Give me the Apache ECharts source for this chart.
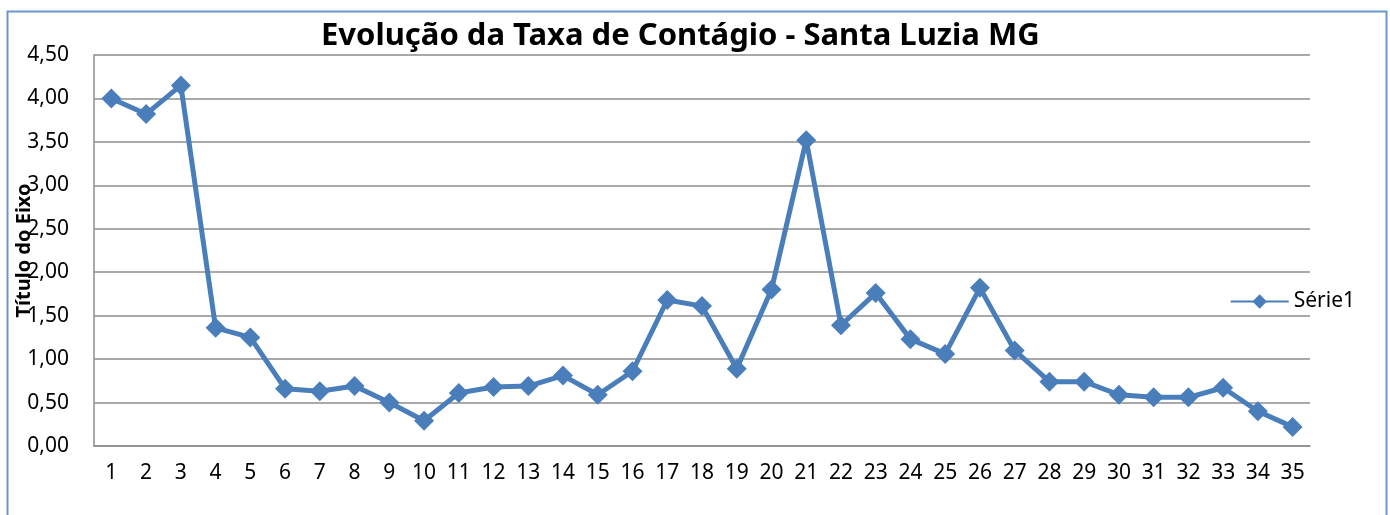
<!DOCTYPE html>
<html>
<head>
<meta charset="utf-8">
<script src="https://cdn.jsdelivr.net/npm/echarts@6/dist/echarts.min.js"></script>
<style>
html,body{margin:0;padding:0;background:#fff;}
#c{width:1390px;height:515px;}
</style>
</head>
<body>
<div id="c"></div>
<script>
var titleText = 'Evolução da Taxa de Contágio - Santa Luzia MG';
var axisTitle = 'Título do Eixo';
var seriesName = 'Série1';
var categories = ['1','2','3','4','5','6','7','8','9','10','11','12','13','14','15','16','17','18','19','20','21','22','23','24','25','26','27','28','29','30','31','32','33','34','35'];
var values = [4.00,3.82,4.15,1.36,1.25,0.66,0.63,0.69,0.50,0.29,0.61,0.68,0.69,0.81,0.59,0.86,1.68,1.61,0.89,1.80,3.52,1.39,1.76,1.23,1.06,1.82,1.10,0.74,0.74,0.59,0.56,0.56,0.67,0.40,0.22];
var yMin = 0, yMax = 4.5, yStep = 0.5;

var FONT = '"Noto Sans", "Open Sans", sans-serif';
var chart = echarts.init(document.getElementById('c'), null, {renderer:'canvas'});
chart.setOption({
  animation:false,
  backgroundColor:'#fff',
  graphic:[{
    type:'rect', left:5, top:9, shape:{width:1379, height:530},
    style:{fill:'none', stroke:'#6b96cc', lineWidth:2}, silent:true
  }],
  title:{
    text:titleText, left:316, top:16,
    textStyle:{fontFamily:'"Noto Sans", sans-serif', fontWeight:'bold', fontSize:31, color:'#000'}
  },
  legend:{
    data:[seriesName], right:30, top:286, itemWidth:58, itemHeight:18, itemGap:3,
    textStyle:{fontFamily:FONT, fontSize:21, color:'#000'}
  },
  grid:{left:94, right:80, top:55, bottom:69, containLabel:false, outerBoundsMode:'none'},
  xAxis:{
    type:'category', data:categories, boundaryGap:true,
    axisLine:{lineStyle:{color:'#8c8c8c', width:1.5}},
    axisTick:{show:false},
    axisLabel:{fontFamily:FONT, fontSize:21, color:'#000', margin:17, interval:0}
  },
  yAxis:{
    type:'value', min:yMin, max:yMax, interval:yStep,
    name:axisTitle, nameLocation:'middle', nameGap:60, nameRotate:90, nameMoveOverlap:false,
    nameTextStyle:{fontFamily:FONT, fontWeight:'bold', fontSize:20, color:'#000'},
    axisLine:{show:true, lineStyle:{color:'#8c8c8c', width:1.5}},
    axisTick:{show:false},
    splitLine:{lineStyle:{color:'#8c8c8c', width:1.5}},
    axisLabel:{fontFamily:FONT, fontSize:21, color:'#000', margin:25,
      formatter:function(v){return v.toFixed(2).replace('.', ',');}}
  },
  series:[{
    name:seriesName, type:'line', data:values,
    symbol:'diamond', symbolSize:20,
    lineStyle:{color:'#4a7ebb', width:5},
    itemStyle:{color:'#4a7ebb'}
  }]
});
</script>
</body>
</html>
